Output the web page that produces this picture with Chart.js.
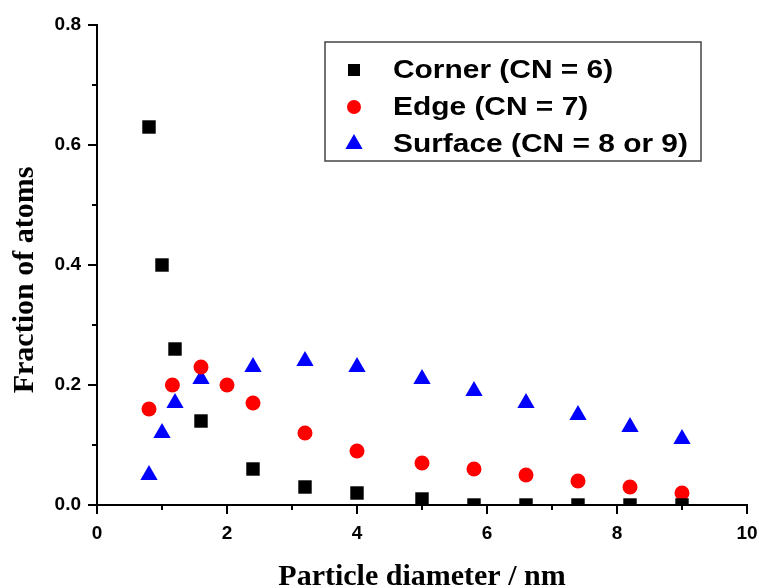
<!DOCTYPE html>
<html>
<head>
<meta charset="utf-8">
<script src="https://cdn.jsdelivr.net/npm/chart.js@4/dist/chart.umd.min.js"></script>
<style>
  html, body { margin: 0; padding: 0; background: #fff; }
</style>
</head>
<body>
<canvas id="chart" width="759" height="588"></canvas>
<script>
// particle diameter (nm) and fraction of atoms
const cornerX = [0.8, 1.0, 1.2, 1.6, 2.4, 3.2, 4.0, 5.0, 5.8, 6.6, 7.4, 8.2, 9.0];
const cornerY = [0.63, 0.40, 0.26, 0.14, 0.06, 0.03, 0.02, 0.01, 0.0, 0.0, 0.0, 0.0, 0.0];
const edgeX = [0.8, 1.16, 1.6, 2.0, 2.4, 3.2, 4.0, 5.0, 5.8, 6.6, 7.4, 8.2, 9.0];
const edgeY = [0.16, 0.20, 0.23, 0.20, 0.17, 0.12, 0.09, 0.07, 0.06, 0.05, 0.04, 0.03, 0.02];
const surfaceX = [0.8, 1.0, 1.2, 1.6, 2.4, 3.2, 4.0, 5.0, 5.8, 6.6, 7.4, 8.2, 9.0];
const surfaceY = [0.05, 0.12, 0.17, 0.21, 0.23, 0.24, 0.23, 0.21, 0.19, 0.17, 0.15, 0.13, 0.11];
const seriesLabels = ["Corner (CN = 6)", "Edge (CN = 7)", "Surface (CN = 8 or 9)"];
const xMinorTicks = [1, 3, 5, 7, 9];
const yMinorTicks = [0.1, 0.3, 0.5, 0.7];
const xTitle = "Particle diameter / nm";
const yTitle = "Fraction of atoms";

function toPoints(xs, ys) {
  return xs.map((x, i) => ({ x: x, y: ys[i] }));
}

// minor ticks, y title and the boxed legend
const decorations = {
  id: "decorations",
  afterDraw(chart) {
    const ctx = chart.ctx;
    const xs = chart.scales.x, ys = chart.scales.y;
    const area = chart.chartArea;
    ctx.save();
    ctx.strokeStyle = "#000";
    ctx.lineWidth = 2;
    ctx.beginPath();
    xMinorTicks.forEach(v => {
      const px = Math.round(xs.getPixelForValue(v));
      ctx.moveTo(px, area.bottom);
      ctx.lineTo(px, area.bottom + 5);
    });
    yMinorTicks.forEach(v => {
      const py = Math.round(ys.getPixelForValue(v));
      ctx.moveTo(area.left - 5, py);
      ctx.lineTo(area.left, py);
    });
    ctx.stroke();

    // y title
    ctx.fillStyle = "#000";
    ctx.font = "bold 30px 'Liberation Serif', 'Times New Roman', serif";
    ctx.textAlign = "center";
    ctx.textBaseline = "alphabetic";
    ctx.translate(33, 280);
    ctx.rotate(-Math.PI / 2);
    ctx.fillText(yTitle, 0, 0);
    ctx.restore();

    // legend
    ctx.save();
    ctx.strokeStyle = "#444";
    ctx.lineWidth = 1.5;
    ctx.strokeRect(325, 42, 376, 119);
    const rows = [78, 115, 152];
    const markers = [
      { pointStyle: "rect", radius: 8.5 },
      { pointStyle: "circle", radius: 7 },
      { pointStyle: "triangle", radius: 10 }
    ];
    chart.data.datasets.forEach((ds, i) => {
      ctx.fillStyle = ds.backgroundColor;
      Chart.helpers.drawPoint(ctx, {
        pointStyle: markers[i].pointStyle,
        radius: markers[i].radius,
        rotation: 0,
        borderWidth: 0
      }, 354, rows[i] - 8);
      ctx.save();
      ctx.fillStyle = "#000";
      ctx.font = "bold 26px 'Liberation Sans', Arial, sans-serif";
      ctx.textAlign = "left";
      ctx.textBaseline = "alphabetic";
      ctx.translate(393, rows[i]);
      ctx.scale(1.15, 1);
      ctx.fillText(ds.label, 0, 0);
      ctx.restore();
    });
    ctx.restore();
  }
};

const tickFont = { family: "'Liberation Sans', Arial, sans-serif", size: 19, weight: "bold" };

new Chart(document.getElementById("chart"), {
  type: "scatter",
  data: {
    datasets: [
      {
        label: seriesLabels[0],
        data: toPoints(cornerX, cornerY),
        pointStyle: "rect",
        pointRadius: 9.5,
        pointBorderWidth: 0,
        backgroundColor: "#000000",
        borderColor: "#000000",
        clip: { left: false, top: false, right: false, bottom: 0 }
      },
      {
        label: seriesLabels[1],
        data: toPoints(edgeX, edgeY),
        pointStyle: "circle",
        pointRadius: 7.5,
        pointBorderWidth: 0,
        backgroundColor: "#ff0000",
        borderColor: "#ff0000"
      },
      {
        label: seriesLabels[2],
        data: toPoints(surfaceX, surfaceY),
        pointStyle: "triangle",
        pointRadius: 10,
        pointBorderWidth: 0,
        backgroundColor: "#0000ff",
        borderColor: "#0000ff"
      }
    ]
  },
  options: {
    responsive: false,
    animation: false,
    events: [],
    devicePixelRatio: 1,
    layout: { padding: { left: 0, right: 12, top: 25, bottom: 0 } },
    plugins: {
      legend: { display: false },
      tooltip: { enabled: false }
    },
    scales: {
      x: {
        type: "linear",
        min: 0,
        max: 10,
        ticks: { stepSize: 2, color: "#000", font: tickFont, padding: 8, maxRotation: 0 },
        grid: { drawOnChartArea: false, drawTicks: true, tickLength: 9, color: "#000", lineWidth: 2 },
        border: { display: true, color: "#000", width: 2 },
        title: {
          display: true,
          text: xTitle,
          color: "#000",
          font: { family: "'Liberation Serif', 'Times New Roman', serif", size: 30, weight: "bold", lineHeight: 0.7 },
          padding: 0
        },
        afterFit(scale) {
          scale.height = 83;
          scale.paddingLeft = 0;
          scale.paddingRight = 0;
        }
      },
      y: {
        type: "linear",
        min: 0,
        max: 0.8,
        ticks: {
          stepSize: 0.2,
          color: "#000",
          font: tickFont,
          padding: 7,
          callback: v => v.toFixed(1)
        },
        grid: { drawOnChartArea: false, drawTicks: true, tickLength: 9, color: "#000", lineWidth: 2 },
        border: { display: true, color: "#000", width: 2 },
        afterFit(scale) { scale.width = 97; }
      }
    }
  },
  plugins: [decorations]
});
</script>
</body>
</html>
